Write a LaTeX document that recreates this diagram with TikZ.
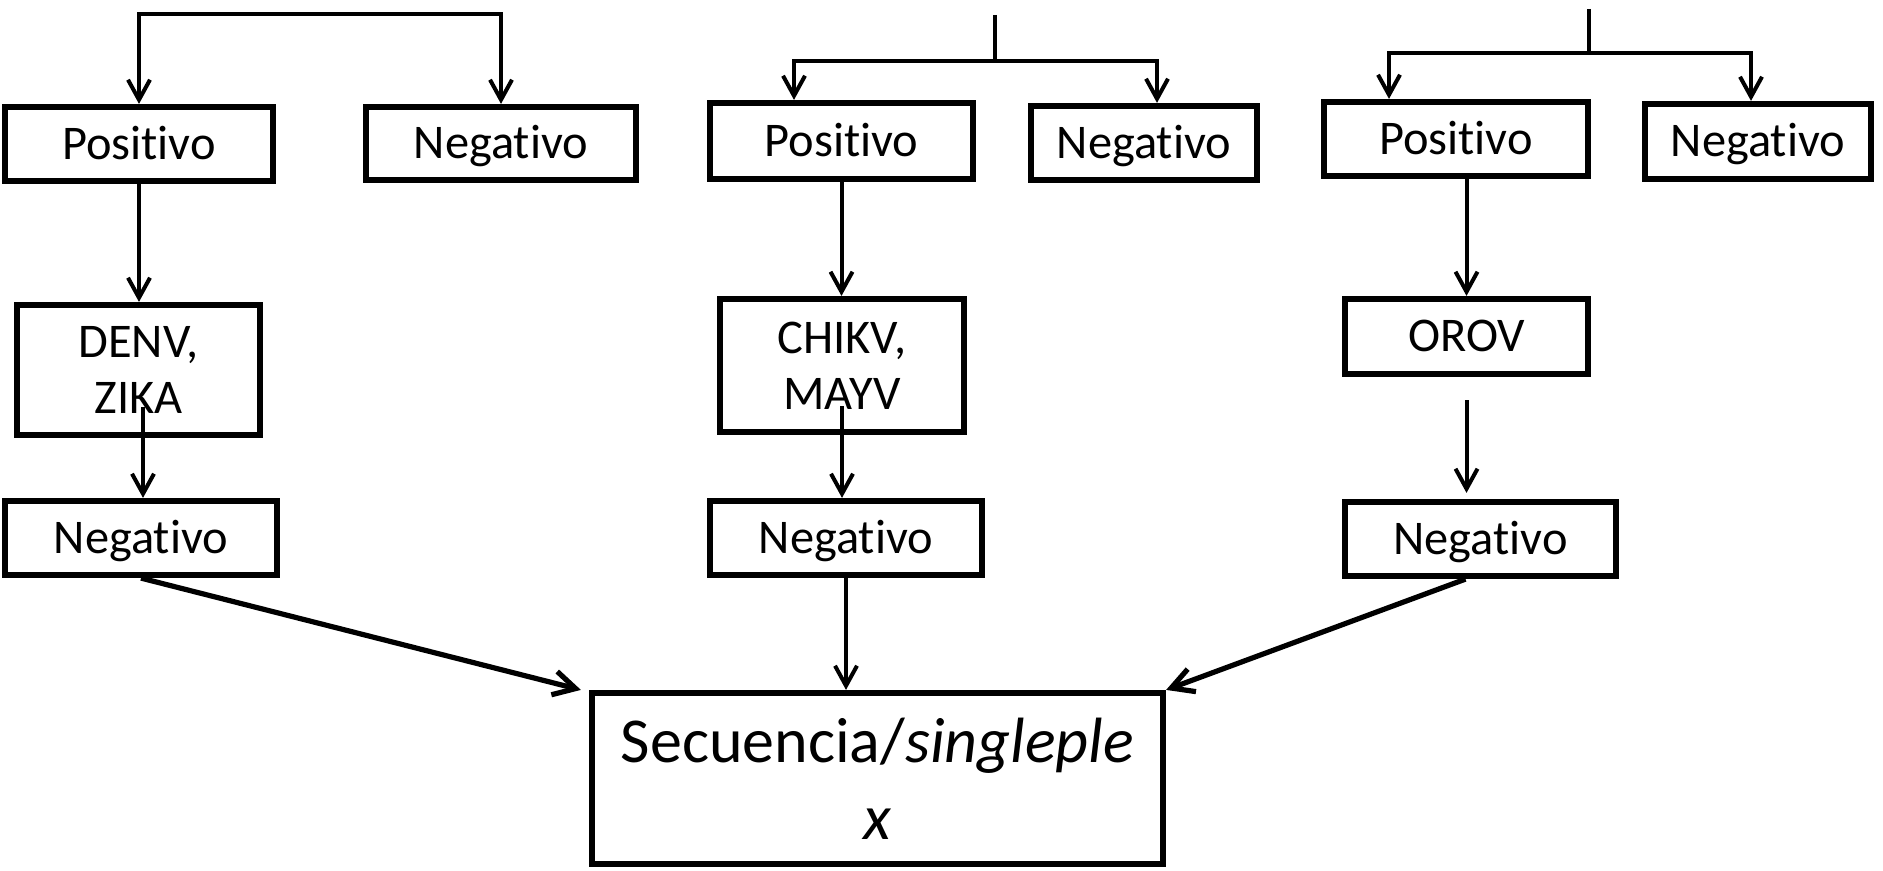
\documentclass[tikz,border=0pt]{standalone}
\usepackage{fontspec}
\setmainfont{Carlito}[Ligatures=NoCommon]
\usetikzlibrary{arrows.meta}
\begin{document}
\begin{tikzpicture}[x=0.5pt,y=-0.5pt,
  box/.style={draw, line width=2.9pt, fill=white, inner sep=0pt, align=center,
    font=\fontsize{24.2}{28}\selectfont},
  oneline/.style={box, text height=15.4pt, text depth=0pt},
  bigbox/.style={box, font=\fontsize{32}{38.5}\selectfont},
  link/.style={line width=2pt, -{Straight Barb[length=10pt,width=11pt]}},
  stem/.style={line width=2pt},
  heavy/.style={line width=2.6pt, -{Straight Barb[length=11pt,width=12pt]}}]
\useasboundingbox (0,0) rectangle (1883,871);

% first branch
\node[oneline, minimum width=134.2pt, minimum height=37.2pt] (pos1) at (139,144) {Positivo};
\node[oneline, minimum width=135.2pt, minimum height=36.7pt] (neg1) at (501,143.5) {Negativo};
\node[box, minimum width=121.7pt, minimum height=65.2pt] (denv) at (138.5,370) {DENV,\\ZIKA};
\node[oneline, minimum width=136.2pt, minimum height=37.2pt] (negL) at (141,538) {Negativo};

% second branch
\node[oneline, minimum width=131.7pt, minimum height=38.2pt] (pos2) at (841.5,141) {Positivo};
\node[oneline, minimum width=113.2pt, minimum height=37.2pt] (neg2) at (1144,143) {Negativo};
\node[box, minimum width=122.2pt, minimum height=66.7pt] (chikv) at (842,365.5) {CHIKV,\\MAYV};
\node[oneline, minimum width=136.2pt, minimum height=37.2pt] (negC) at (846,538) {Negativo};

% third branch
\node[oneline, minimum width=132.2pt, minimum height=37.2pt] (pos3) at (1456,139) {Positivo};
\node[oneline, minimum width=113.2pt, minimum height=37.7pt] (neg3) at (1758,141.5) {Negativo};
\node[oneline, minimum width=121.7pt, minimum height=37.7pt] (orov) at (1466.5,336.5) {OROV};
\node[oneline, minimum width=135.7pt, minimum height=37.2pt] (negR) at (1480.5,539) {Negativo};

% final step
\node[bigbox, minimum width=285.7pt, minimum height=85.7pt] (sec) at (877.5,778.5)
  {Secuencia/\textit{singleple}\\\textit{x}};

% top splits
\coordinate (j1) at (320,14);
\draw[link] (j1) -| (pos1.north);
\draw[link] (j1) -| (neg1.north);

\coordinate (s2) at (995,15);
\coordinate (j2) at (995,61);
\draw[stem] (s2) -- (j2);
\draw[link] (j2) -| ([xshift=-23.75pt]pos2.north);
\draw[link] (j2) -| ([xshift=6.5pt]neg2.north);

\coordinate (s3) at (1589,9);
\coordinate (j3) at (1589,53);
\draw[stem] (s3) -- (j3);
\draw[link] (j3) -| ([xshift=-33.5pt]pos3.north);
\draw[link] (j3) -| ([xshift=-3.5pt]neg3.north);

% vertical chains
\draw[link] (pos1.south) -- (pos1.south |- denv.north);
\coordinate (d1) at ([xshift=2.25pt,yshift=-18.5pt]denv.center);
\draw[link] (d1) -- (d1 |- negL.north);

\draw[link] (pos2.south) -- (pos2.south |- chikv.north);
\coordinate (d2) at ([yshift=-20.25pt]chikv.center);
\draw[link] (d2) -- (d2 |- negC.north);

\draw[link] (orov.north |- pos3.south) -- (orov.north);
\draw[link, shorten <=11.5pt, shorten >=3pt] (orov.south) -- (orov.south |- negR.north);

% into the final box
\draw[heavy] (negL.south) -- ([xshift=-4pt]sec.north west);
\draw[link] (negC.south) -- (negC.south |- sec.north);
\draw[heavy] ([xshift=-7.5pt]negR.south) -- (sec.north east);
\end{tikzpicture}
\end{document}
